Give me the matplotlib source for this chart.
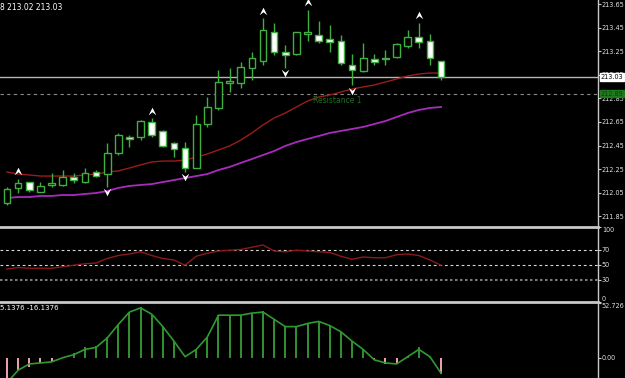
import matplotlib
matplotlib.use('Agg')
import matplotlib.pyplot as plt
from matplotlib.patches import Rectangle
from matplotlib.path import Path
import matplotlib.transforms as mtransforms

# свечи (OHLC)
opens = [211.96, 212.09, 212.14, 212.06, 212.12, 212.12, 212.18, 212.14, 212.23, 212.21,
         212.39, 212.52, 212.52, 212.65, 212.57, 212.47, 212.43, 212.26, 212.63, 212.77,
         212.98, 212.98, 213.11, 213.17, 213.41, 213.24, 213.23, 213.40, 213.39, 213.35,
         213.34, 213.13, 213.08, 213.18, 213.19, 213.20, 213.29, 213.37, 213.34, 213.17]
highs = [212.10, 212.17, 212.14, 212.14, 212.22, 212.24, 212.22, 212.26, 212.24, 212.47,
         212.56, 212.54, 212.67, 212.68, 212.58, 212.48, 212.48, 212.71, 212.86, 213.09,
         213.11, 213.16, 213.24, 213.53, 213.49, 213.30, 213.41, 213.60, 213.51, 213.47,
         213.39, 213.23, 213.32, 213.23, 213.26, 213.32, 213.43, 213.49, 213.40, 213.17]
lows = [211.95, 212.05, 212.06, 212.06, 212.10, 212.11, 212.13, 212.13, 212.18, 212.10,
        212.37, 212.44, 212.50, 212.52, 212.44, 212.35, 212.23, 212.26, 212.61, 212.75,
        212.90, 212.94, 213.01, 213.13, 213.22, 213.11, 213.22, 213.34, 213.32, 213.24,
        213.13, 212.96, 213.07, 213.13, 213.13, 213.19, 213.28, 213.28, 213.13, 213.01]
closes = [212.08, 212.13, 212.07, 212.11, 212.13, 212.18, 212.16, 212.22, 212.19, 212.39,
          212.54, 212.51, 212.66, 212.54, 212.45, 212.42, 212.26, 212.63, 212.78, 212.99,
          213.00, 213.12, 213.19, 213.43, 213.24, 213.22, 213.41, 213.41, 213.34, 213.33,
          213.15, 213.09, 213.19, 213.16, 213.18, 213.31, 213.37, 213.33, 213.19, 213.03]

# скользящие средние
ma_red = [212.226, 212.209, 212.201, 212.192, 212.192, 212.192, 212.192, 212.201, 212.209, 212.226,
          212.235, 212.260, 212.286, 212.311, 212.319, 212.319, 212.328, 212.353, 212.379, 212.413,
          212.447, 212.497, 212.557, 212.625, 212.684, 212.726, 212.777, 212.828, 212.862, 212.879,
          212.904, 212.930, 212.947, 212.964, 212.989, 213.014, 213.040, 213.057, 213.065, 213.065]
ma_purple = [212.006, 212.014, 212.014, 212.023, 212.023, 212.031, 212.031, 212.040, 212.048, 212.065,
             212.091, 212.108, 212.116, 212.124, 212.141, 212.158, 212.175, 212.192, 212.209, 212.243,
             212.269, 212.303, 212.336, 212.370, 212.404, 212.447, 212.480, 212.506, 212.531, 212.557,
             212.574, 212.591, 212.608, 212.633, 212.658, 212.692, 212.726, 212.752, 212.769, 212.777]

# фракталы
up_idx = [1, 13, 23, 27, 37]
down_idx = [9, 16, 25, 31]

# RSI
rsi = [44, 46, 45, 45, 45, 47, 49, 51, 52, 58, 62, 64, 67, 62, 58, 56, 49, 61, 65, 68,
       69, 70, 73, 76, 68, 67, 69, 68, 67, 66, 61, 57, 60, 59, 59, 63, 64, 62, 56, 49]
rsi_levels = [70, 50, 30]

# гистограмма осциллятора и сигнальная линия
hist = [-22, -12, -9, -5, -4, 1, 5, 10, 11, 20, 32, 44, 49, 41, 30, 16, 0, 8, 20, 41,
        41, 41, 43, 45, 37, 31, 30, 33, 35, 31, 25, 16, 8, -2, -6, -6, 1, 10, 1, -16.1]
signal = [-24, -12, -6, -5, -4, 0, 3, 8, 10, 19, 32, 44, 48, 42, 30, 16, 1, 8, 20, 41,
          41, 41, 43, 44, 37, 30, 30, 33, 35, 31, 25, 16, 8, -2, -5, -6, 1, 8, 1, -15]

price_ticks = [213.65, 213.45, 213.25, 213.05, 212.85, 212.65, 212.45, 212.25, 212.05, 211.85]
last_price = 213.03
resistance = 212.89

W, H = 625, 378
bg = 'black'
green = '#3faf3f'
axis_col = '#c8c8c8'
txt_col = '#e0e0e0'
fs = 4.7

fig = plt.figure(figsize=(W / 100, H / 100), dpi=100, facecolor=bg)
plot_w = 598 / W
ax = fig.add_axes([0, 1 - 227 / H, plot_w, 227 / H])
rsi_ax = fig.add_axes([0, 1 - 302 / H, plot_w, 75 / H])
hist_ax = fig.add_axes([0, 0, plot_w, 76 / H])

xlim = (-0.63, 53.1)
for a in (ax, rsi_ax, hist_ax):
    a.set_facecolor(bg)
    a.set_xlim(*xlim)
    a.set_xticks([])
    for s in ('left', 'bottom'):
        a.spines[s].set_visible(False)
    a.spines['top'].set_visible(a is not ax)
    a.spines['top'].set_color(axis_col)
    a.spines['top'].set_linewidth(2)
    a.spines['right'].set_color(axis_col)
    a.spines['right'].set_linewidth(1)
    a.yaxis.tick_right()
    a.tick_params(axis='y', colors=axis_col, labelcolor=txt_col, labelsize=fs,
                  length=2, width=0.8, pad=0.8)

# ---- основной график ----
ax.set_ylim(211.76, 213.684)
ax.set_yticks(price_ticks)
ax.set_yticklabels([f'{t:.2f}' for t in price_ticks])

ax.plot(range(len(ma_red)), ma_red, color='#9a1c1c', lw=1, zorder=2)
ax.plot(range(len(ma_purple)), ma_purple, color='#a82cbc', lw=1.3, zorder=2)

for i, (o, h, l, c) in enumerate(zip(opens, highs, lows, closes)):
    ax.vlines(i, l, h, color=green, lw=1, zorder=3)
    bottom = min(o, c)
    height = max(abs(c - o), 0.004)
    face = bg if c >= o else 'white'
    ax.add_patch(Rectangle((i - 0.3, bottom), 0.6, height, facecolor=face,
                           edgecolor=green, lw=1, zorder=4))

# стрелки фракталов
up_marker = Path([(-1, -1), (0, 1), (1, -1), (0, -0.2), (-1, -1)],
                 [Path.MOVETO, Path.LINETO, Path.LINETO, Path.LINETO, Path.CLOSEPOLY])
down_marker = Path([(-1, 1), (0, -1), (1, 1), (0, 0.2), (-1, 1)],
                   [Path.MOVETO, Path.LINETO, Path.LINETO, Path.LINETO, Path.CLOSEPOLY])
up_tr = mtransforms.offset_copy(ax.transData, fig=fig, x=0, y=5.5, units='points')
down_tr = mtransforms.offset_copy(ax.transData, fig=fig, x=0, y=-4, units='points')
ax.scatter(up_idx, [highs[i] for i in up_idx], marker=up_marker, s=30, color='white',
           transform=up_tr, zorder=5, linewidths=0)
ax.scatter(down_idx, [lows[i] for i in down_idx], marker=down_marker, s=30, color='white',
           transform=down_tr, zorder=5, linewidths=0)

# линия цены и уровень сопротивления
ax.axhline(last_price, color='#b4b4b4', lw=1, zorder=1)
ax.axhline(resistance, color='#8a8a8a', lw=0.8, ls=(0, (3, 3)), zorder=1)
ax.text(29.7, resistance - 0.02, 'Resistance 1', color='#1f6e1f', fontsize=5.5,
        ha='center', va='top')
ax.text(1.004, last_price, f'{last_price:.2f}', transform=ax.get_yaxis_transform(),
        color='black', fontsize=fs, va='center', ha='left', zorder=10, clip_on=False,
        bbox=dict(boxstyle='square,pad=0.12', facecolor='white', edgecolor='white'))
ax.text(1.004, resistance, f'{resistance:.2f}', transform=ax.get_yaxis_transform(),
        color='#0c3c0c', fontsize=fs, va='center', ha='left', zorder=10, clip_on=False,
        bbox=dict(boxstyle='square,pad=0.12', facecolor='#1f7a1f', edgecolor='#1f7a1f'))
ax.text(0.0, 0.985, '8 213.02 213.03', transform=ax.transAxes, color='white',
        fontsize=5.5, ha='left', va='top')

# ---- RSI ----
rsi_ax.set_ylim(0, 100)
rsi_ax.set_yticks([100, 70, 50, 30, 0])
rsi_ax.set_yticklabels(['100', '70', '50', '30', '0'])
labels = rsi_ax.get_yticklabels()
labels[0].set_va('top')
labels[-1].set_va('bottom')
rsi_ax.axhline(70, color='#d8d8d8', lw=0.8, ls=(0, (2.5, 2.5)))
rsi_ax.axhline(50, color='#d8d8d8', lw=0.8, ls=(0, (2.5, 2.5)))
rsi_ax.axhline(30, color='#7a7a7a', lw=1.5, ls=(0, (1.2, 1.2)))
rsi_ax.plot(range(len(rsi)), rsi, color='#8b1a1a', lw=1)

# ---- гистограмма ----
hist_ax.set_ylim(-19.5, 53.7)
hist_ax.set_yticks([52.726, 0])
hist_ax.set_yticklabels(['52.726', '0.00'])
hist_ax.get_yticklabels()[0].set_va('top')
bar_cols = [('#2f8f2f' if v >= 0 else '#e8a0a8') for v in hist]
hist_ax.bar(range(len(hist)), hist, width=0.18, color=bar_cols, zorder=2)
hist_ax.plot(range(len(signal)), signal, color='#2f9a2f', lw=1.2, zorder=3)
hist_ax.text(0.0, 0.96, '5.1376 -16.1376', transform=hist_ax.transAxes, color='white',
             fontsize=5, ha='left', va='top')

fig.savefig('out.png', dpi=100, facecolor=bg)
